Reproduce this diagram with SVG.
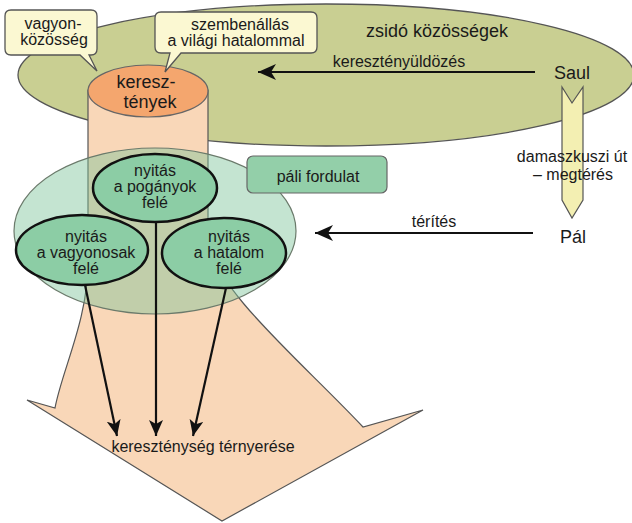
<svg xmlns="http://www.w3.org/2000/svg" width="632" height="523" viewBox="0 0 632 523">
<defs>
<style>
text{font-family:"Liberation Sans",Arial,sans-serif;fill:#1a1a1a;text-anchor:middle}
.t16{font-size:16px}
.t18{font-size:18px}
.callout{fill:#fbf8d2;stroke:#555;stroke-width:1.3}
.inner{fill:#8ccda5;stroke:#111;stroke-width:2.5}
.conn{stroke:#111;stroke-width:2.2;fill:none}
</style>
<marker id="ah" markerUnits="userSpaceOnUse" markerWidth="18" markerHeight="14" refX="16" refY="7" orient="auto">
<path d="M0,0 L16,7 L0,14 L4,7 z" fill="#111"/>
</marker>
<marker id="ahBig" markerUnits="userSpaceOnUse" markerWidth="20" markerHeight="16" refX="18" refY="8" orient="auto">
<path d="M0,0 L18,8 L0,16 L5,8 z" fill="#111"/>
</marker>
</defs>
<rect width="632" height="523" fill="#ffffff"/>

<g id="zsido">
<ellipse cx="326" cy="75" rx="308" ry="71" fill="#c9cf92" stroke="#555" stroke-width="1.3"/>
<text class="t18" x="437" y="37">zsidó közösségek</text>
</g>

<g id="terjedes">
<path d="M88,90 L88,262 C88,320 62,370 55,408 L27,400 L222,521 L423,410 L363,427 C300,360 215,290 208,240 L208,90 Z" fill="#f9d7b8" stroke="#555" stroke-width="1.2"/>
<text class="t16" x="203" y="452">kereszténység térnyerése</text>
</g>

<g id="keresztenyek">
<ellipse cx="148" cy="91" rx="60" ry="26" fill="#f4a66e" stroke="#666" stroke-width="1.2"/>
<text class="t18" x="146" y="88">keresz-</text>
<text class="t18" x="150" y="108">tények</text>
</g>

<g id="vagyonkozosseg">
<path class="callout" d="M11,10 H91 Q97,10 97,16 V49 Q97,55 91,55 H89 L97,71 L80,55 H11 Q5,55 5,49 V16 Q5,10 11,10 Z"/>
<text class="t16" x="53" y="29">vagyon-</text>
<text class="t16" x="54" y="45">közösség</text>
</g>

<g id="szembenallas">
<path class="callout" d="M161,12 H311 Q317,12 317,18 V47 Q317,53 311,53 H181 L165,72 L170,53 H161 Q155,53 155,47 V18 Q155,12 161,12 Z"/>
<text class="t16" x="240" y="30">szembenállás</text>
<text class="t16" x="236" y="46">a világi hatalommal</text>
</g>

<g id="pali-kor">
<ellipse cx="155" cy="231" rx="141" ry="83" fill="#7cc49a" fill-opacity="0.45" stroke="#6b7a6b" stroke-width="1.2"/>
</g>

<g id="poganyok">
<ellipse class="inner" cx="155" cy="188" rx="62" ry="34"/>
<text class="t16" x="155" y="176">nyitás</text>
<text class="t16" x="155" y="192">a pogányok</text>
<text class="t16" x="155" y="208">felé</text>
</g>

<g id="vagyonosak">
<ellipse class="inner" cx="82" cy="250" rx="66" ry="35"/>
<text class="t16" x="86" y="242">nyitás</text>
<text class="t16" x="86" y="258">a vagyonosak</text>
<text class="t16" x="86" y="274">felé</text>
</g>

<g id="hatalom">
<ellipse class="inner" cx="224" cy="253" rx="62" ry="35"/>
<text class="t16" x="229" y="242">nyitás</text>
<text class="t16" x="229" y="258">a hatalom</text>
<text class="t16" x="229" y="274">felé</text>
</g>

<g id="pali-fordulat">
<rect x="247" y="156" width="140" height="37" rx="6" fill="#93cfa9" stroke="#666" stroke-width="1.2"/>
<text class="t16" x="318" y="182">páli fordulat</text>
</g>

<g id="connectors">
<path d="M562,87 L572,103 L583,87 L583,200 L572,218 L562,200 Z" fill="#f3efb2" stroke="#555" stroke-width="1.2"/>
<line class="conn" x1="535" y1="72" x2="258" y2="72" marker-end="url(#ahBig)"/>
<line class="conn" x1="533" y1="233" x2="315" y2="233" marker-end="url(#ahBig)"/>
<line class="conn" x1="85" y1="285" x2="117" y2="436" marker-end="url(#ah)"/>
<line class="conn" x1="156" y1="222" x2="156" y2="436" marker-end="url(#ah)"/>
<line class="conn" x1="226" y1="288" x2="193" y2="436" marker-end="url(#ah)"/>
<text class="t16" x="399" y="67">keresztényüldözés</text>
<text class="t16" x="434" y="227">térítés</text>
<text class="t16" x="572" y="162">damaszkuszi út</text>
<text class="t16" x="573" y="180">– megtérés</text>
</g>

<g id="saul">
<text class="t18" x="572" y="79">Saul</text>
</g>
<g id="pal">
<text class="t18" x="573" y="243">Pál</text>
</g>
</svg>
